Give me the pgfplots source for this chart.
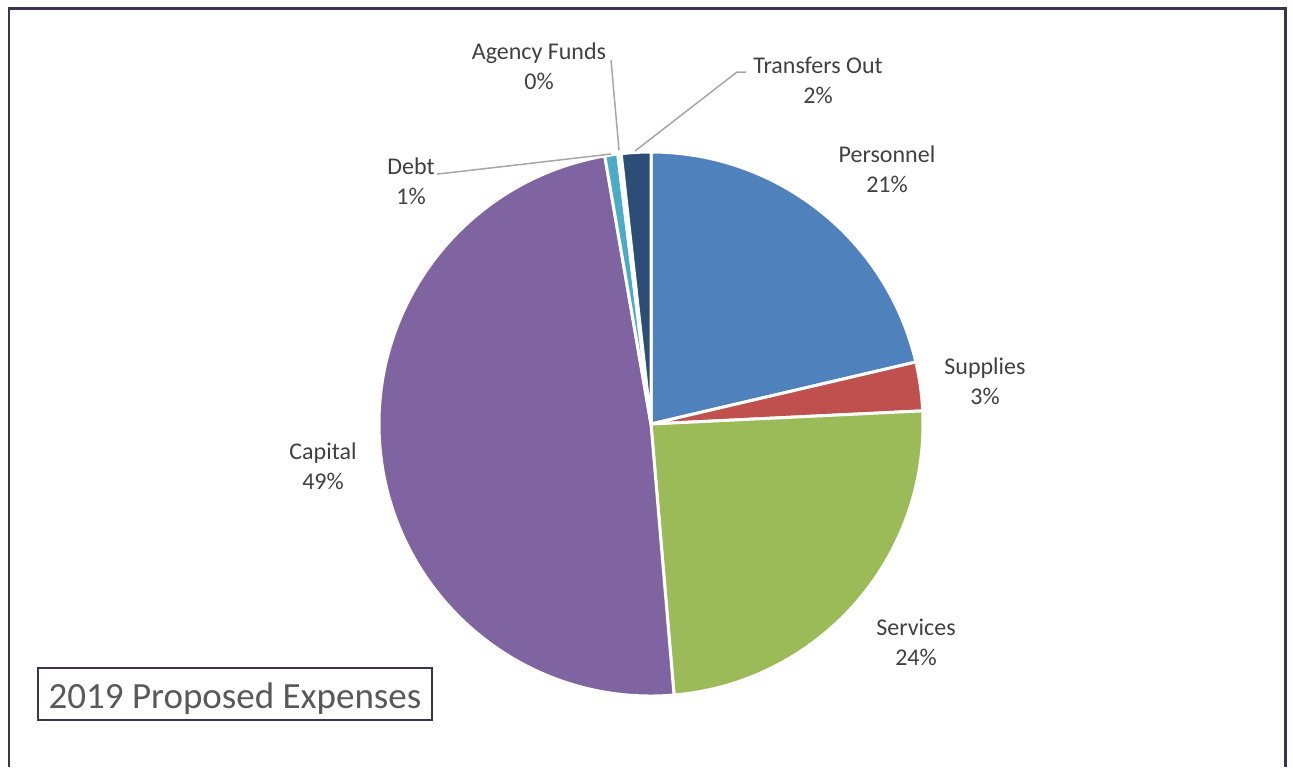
\documentclass[border=0pt]{standalone}
\usepackage{pgfplots}
\usepackage{pgfplotstable}
\pgfplotsset{compat=1.18}
\usepackage{fontspec}
\setmainfont{Carlito}

\definecolor{cPer}{HTML}{4F81BD}
\definecolor{cSup}{HTML}{C0504D}
\definecolor{cSer}{HTML}{9BBB59}
\definecolor{cCap}{HTML}{8064A2}
\definecolor{cDebt}{HTML}{4BACC6}
\definecolor{cAg}{HTML}{F79646}
\definecolor{cTr}{HTML}{2C4D75}
\definecolor{lbl}{HTML}{404040}
\definecolor{ttl}{HTML}{595959}
\definecolor{frame}{HTML}{3F3151}
\definecolor{leader}{HTML}{A6A6A6}

% share of the 2019 proposed expenses, percent
\pgfplotstableread{
label value color
Personnel 21.34 cPer
Supplies 2.89 cSup
Services 24.42 cSer
Capital 48.63 cCap
Debt 0.77 cDebt
AgencyFunds 0.20 cAg
TransfersOut 1.75 cTr
}\expenses

\begin{document}
\begin{tikzpicture}[
    lab/.style={font=\fontsize{12bp}{15bp}\selectfont, text=lbl, align=center},
    ]
\begin{axis}[
    scale only axis,
    width=646.5bp, height=383.5bp,
    xmin=0, xmax=1293, ymin=0, ymax=767,
    y dir=reverse,
    hide axis,
    clip=false,
    ]
    % keep the whole canvas in the bounding box
    \path (axis cs:0,0) rectangle (axis cs:1293,767);

    % slices, clockwise from the top
    \def\cum{0}
    \pgfplotsforeachungrouped \i in {0,...,6}{%
        \pgfplotstablegetelem{\i}{value}\of\expenses \let\sval\pgfplotsretval
        \pgfplotstablegetelem{\i}{color}\of\expenses \let\scol\pgfplotsretval
        \pgfmathsetmacro\sa{90-3.6*\cum}%
        \pgfmathsetmacro\cum{\cum+\sval}%
        \pgfmathsetmacro\sb{90-3.6*\cum}%
        \edef\temp{\noexpand\fill[fill=\scol, draw=white, line width=1.5bp, line join=round]
            (axis cs:651,424) -- ++(\sa:136bp) arc[start angle=\sa, end angle=\sb, radius=136bp] -- cycle;}%
        \temp
    }

    % leader lines
    \draw[leader, line width=0.75bp] (axis cs:437,174) -- (axis cs:447,173) -- (axis cs:611,154);
    \draw[leader, line width=0.75bp] (axis cs:611,60) -- (axis cs:619,150);
    \draw[leader, line width=0.75bp] (axis cs:746,72) -- (axis cs:737,72) -- (axis cs:635,151);

    % data labels
    \node[lab] at (axis cs:887,169) {Personnel\\21\%};
    \node[lab] at (axis cs:985,381) {Supplies\\3\%};
    \node[lab] at (axis cs:916,642) {Services\\24\%};
    \node[lab] at (axis cs:323,466) {Capital\\49\%};
    \node[lab] at (axis cs:411,181) {Debt\\1\%};
    \node[lab] at (axis cs:539,66) {Agency Funds\\0\%};
    \node[lab] at (axis cs:818,80) {Transfers Out\\2\%};

    % title box
    \draw[frame, line width=1bp, fill=white] (axis cs:38,668) rectangle (axis cs:432,720);
    \node[anchor=base, text=ttl, font=\fontsize{18.5bp}{22bp}\selectfont] at (axis cs:235,708) {2019 Proposed Expenses};

    % outer frame
    \draw[frame, line width=1.25bp] (axis cs:9,767) -- (axis cs:9,8.5) -- (axis cs:1285.5,8.5) -- (axis cs:1285.5,767);
\end{axis}
\end{tikzpicture}
\end{document}
